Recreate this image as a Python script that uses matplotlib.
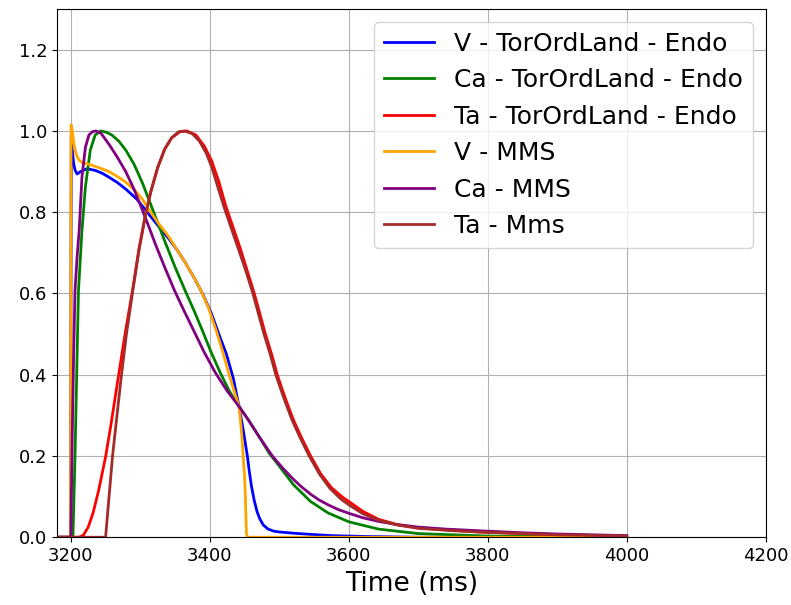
import matplotlib
matplotlib.use("Agg")
import matplotlib.pyplot as plt

# V - TorOrdLand - Endo
t_v_tor = [3180, 3199.5, 3200.6, 3202, 3204, 3206, 3209, 3214, 3223, 3235, 3245, 3255, 3267,
           3279, 3295, 3310, 3325, 3340, 3353, 3365, 3377, 3390, 3402, 3413, 3424, 3434,
           3442, 3448, 3454, 3457, 3460, 3464, 3468, 3472, 3477, 3484, 3492, 3500, 3520,
           3545, 3575, 3620, 3700, 4000]
v_v_tor = [0, 0, 0.99, 0.953, 0.92, 0.904, 0.894, 0.90, 0.907, 0.903, 0.896, 0.886, 0.873,
           0.857, 0.832, 0.80, 0.768, 0.737, 0.707, 0.675, 0.64, 0.598, 0.552, 0.50, 0.45, 0.39,
           0.322, 0.265, 0.20, 0.16, 0.125, 0.09, 0.063, 0.045, 0.03, 0.02, 0.015, 0.013, 0.01,
           0.007, 0.004, 0.002, 0.0, 0.0]

# Ca - TorOrdLand - Endo
t_ca_tor = [3180, 3203, 3206, 3209, 3211, 3216, 3221, 3228, 3235, 3243, 3251, 3259, 3269,
            3279, 3291, 3303, 3317, 3336, 3350, 3365, 3378, 3389, 3402, 3415, 3428, 3442,
            3455, 3470, 3485, 3500, 3520, 3545, 3570, 3600, 3643, 3700, 3800, 4000]
v_ca_tor = [0, 0, 0.2, 0.45, 0.608, 0.756, 0.863, 0.953, 0.99, 1.0, 0.997, 0.99, 0.975,
            0.953, 0.918, 0.872, 0.81, 0.725, 0.665, 0.605, 0.555, 0.51, 0.455, 0.405, 0.36, 0.322,
            0.29, 0.25, 0.208, 0.175, 0.13, 0.088, 0.06, 0.038, 0.02, 0.009, 0.003, 0.0]

# Ta - TorOrdLand - Endo
t_ta_tor = [3180, 3212, 3218, 3225, 3232, 3240, 3250, 3258, 3267, 3278, 3289, 3298, 3307,
            3315, 3325, 3335, 3345, 3357, 3367, 3380, 3392, 3403, 3413, 3423, 3433, 3444,
            3454, 3464, 3472, 3480, 3489, 3497, 3508, 3520, 3532, 3545, 3560, 3575, 3590,
            3600, 3620, 3643, 3670, 3700, 3750, 3787, 3850, 3900, 4000]
v_ta_tor = [0, 0, 0.005, 0.025, 0.06, 0.115, 0.198, 0.28, 0.38, 0.50, 0.61, 0.71, 0.79,
            0.85, 0.91, 0.955, 0.983, 0.998, 1.0, 0.99, 0.963, 0.925, 0.875, 0.815, 0.765, 0.71,
            0.655, 0.60, 0.55, 0.50, 0.45, 0.40, 0.345, 0.29, 0.245, 0.20, 0.155, 0.122, 0.1,
            0.088, 0.064, 0.044, 0.031, 0.023, 0.017, 0.013, 0.009, 0.006, 0.003]

# V - MMS
t_v_mms = [3180, 3199.5, 3200.3, 3202, 3204.3, 3206.5, 3209, 3212, 3216, 3226, 3240, 3255,
           3267, 3279, 3291, 3303, 3313, 3325, 3340, 3353, 3365, 3377, 3387, 3398, 3408,
           3418, 3427, 3435, 3442, 3444.5, 3446.5, 3448, 3450, 3451.2, 3452, 3452.7, 3454, 4000]
v_v_mms = [0, 0, 1.015, 1.0, 0.97, 0.95, 0.937, 0.928, 0.922, 0.918, 0.91, 0.90,
           0.888, 0.874, 0.856, 0.832, 0.805, 0.775, 0.742, 0.707, 0.675, 0.64, 0.608, 0.565, 0.515,
           0.46, 0.405, 0.36, 0.322, 0.28, 0.24, 0.20, 0.15, 0.10, 0.05, 0.01, 0.0, 0.0]

# Ca - MMS
t_ca_mms = [3180, 3200, 3202, 3204, 3206, 3209, 3212, 3216, 3221, 3226, 3231, 3236, 3243,
            3255, 3267, 3279, 3290, 3300, 3311, 3322, 3335, 3349, 3363, 3377, 3392, 3408,
            3425, 3442, 3455, 3470, 3490, 3505, 3520, 3532, 3545, 3557, 3570, 3585, 3600,
            3620, 3643, 3670, 3700, 3740, 3787, 3850, 3900, 4000]
v_ca_mms = [0, 0, 0.25, 0.45, 0.608, 0.69, 0.756, 0.887, 0.96, 0.99, 0.998, 1.0, 0.995,
            0.967, 0.935, 0.9, 0.86, 0.818, 0.77, 0.72, 0.665, 0.608, 0.557, 0.508, 0.455, 0.405,
            0.36, 0.322, 0.29, 0.25, 0.20, 0.17, 0.143, 0.124, 0.106, 0.092, 0.08, 0.068, 0.059,
            0.048, 0.039, 0.031, 0.025, 0.02, 0.016, 0.011, 0.008, 0.004]

# Ta - Mms
t_ta_mms = [3180, 3250, 3260, 3272, 3280, 3289, 3298, 3307, 3315, 3325, 3335, 3345, 3355,
            3364, 3375, 3385, 3395, 3403, 3411, 3421, 3431, 3442, 3452, 3462, 3470, 3478,
            3487, 3495, 3506, 3518, 3530, 3543, 3558, 3573, 3588, 3600, 3620, 3643, 3670,
            3700, 3750, 3787, 3850, 3900, 4000]
v_ta_mms = [0, 0, 0.2, 0.387, 0.50, 0.605, 0.705, 0.79, 0.85, 0.91, 0.955, 0.983, 0.998,
            1.0, 0.993, 0.975, 0.945, 0.91, 0.865, 0.81, 0.76, 0.705, 0.655, 0.60, 0.55, 0.50,
            0.45, 0.40, 0.345, 0.29, 0.245, 0.20, 0.155, 0.12, 0.095, 0.08, 0.058, 0.042, 0.03,
            0.022, 0.016, 0.013, 0.009, 0.006, 0.003]

fig = plt.figure(figsize=(7.91, 6.05), dpi=100)
ax = fig.add_axes([0.072, 0.112, 0.896, 0.873])

ax.plot(t_v_tor, v_v_tor, color='blue', lw=2, label='V - TorOrdLand - Endo')
ax.plot(t_ca_tor, v_ca_tor, color='green', lw=2, label='Ca - TorOrdLand - Endo')
ax.plot(t_ta_tor, v_ta_tor, color='red', lw=2, label='Ta - TorOrdLand - Endo')
ax.plot(t_v_mms, v_v_mms, color='orange', lw=2, label='V - MMS')
ax.plot(t_ca_mms, v_ca_mms, color='purple', lw=2, label='Ca - MMS')
ax.plot(t_ta_mms, v_ta_mms, color='brown', lw=2, label='Ta - Mms')

ax.set_xlim(3180, 4200)
ax.set_ylim(0, 1.3)
ax.set_xticks([3200, 3400, 3600, 3800, 4000, 4200])
ax.set_yticks([0.0, 0.2, 0.4, 0.6, 0.8, 1.0, 1.2])
ax.tick_params(labelsize=13)
ax.set_xlabel('Time (ms)', fontsize=19)
ax.grid(True)
ax.legend(loc='upper right', fontsize=18)

fig.savefig('out.png', dpi=100)
